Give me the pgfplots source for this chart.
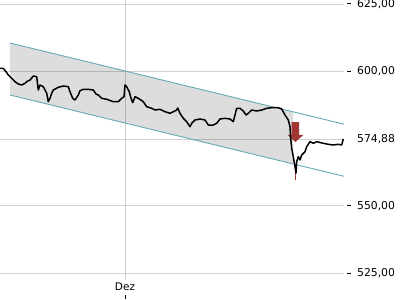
\documentclass[border=0pt]{standalone}
\usepackage{pgfplots}
\pgfplotsset{compat=1.18}
\usepackage{fontspec}
\setmainfont{DejaVu Sans}
\definecolor{chan}{RGB}{100,170,180}
\definecolor{arr}{RGB}{160,55,50}
\definecolor{gridc}{RGB}{208,208,208}
\newcommand{\dsh}{\llap{\rule[3.2pt]{4pt}{0.8pt}\hspace{6pt}}}
\begin{document}
\begin{tikzpicture}
\useasboundingbox (0pt,-20pt) rectangle (400pt,280pt);
\begin{axis}[
  at={(0pt,0pt)}, anchor=south west,
  scale only axis, width=344pt, height=280pt,
  xmin=0, xmax=344, ymin=522.47, ymax=626.49,
  axis line style={draw=none},
  tick style={draw=none},
  grid=major, grid style={gridc, line width=0.8pt},
  xtick={125}, xticklabels={{Dez\\[-3pt]\rule{0.7pt}{4pt}}},
  xticklabel style={align=center, font=\fontsize{10.5}{11}\selectfont, inner sep=1pt, yshift=-2pt},
  ytick={525,550,600,625},
  yticklabels={{\dsh 525{,}00},{\dsh 550{,}00},{\dsh 600{,}00},{\dsh 625{,}00}},
  extra y ticks={574.88}, extra y tick labels={574{,}88},
  extra y tick style={grid=major},
  yticklabel pos=right,
  yticklabel style={anchor=west, inner sep=0pt, xshift=13pt, font=\fontsize{10.8}{12}\selectfont},
  clip=false,
]
% channel fill
\addplot[draw=none, fill=black, fill opacity=0.135] coordinates {
 (10,610.51) (293,584.95) (293,565.64) (10,591.2)} --cycle;
\addplot[chan, line width=0.9pt] coordinates {(10,610.51) (344,580.35)};
\addplot[chan, line width=0.9pt] coordinates {(10,591.2) (344,560.99)};
% red arrow
\addplot[draw=none, fill=arr] coordinates {
 (291.5,581.16) (299,581.16) (299,576.34) (303.3,576.34) (295.5,573.74) (287.5,576.34) (291.5,576.34)} --cycle;
\addplot[arr, line width=1.2pt] coordinates {(295.8,564.56) (295.8,559.62)};
% price
\addplot[black, line width=1.5pt, line join=round] coordinates {
(0,601.11) (3.3,601.11) (6,599.85) (8.3,598.63) (11.7,597.40) (15,596.14) (18.3,595.28)
(21.7,594.91) (25,595.54) (26.7,596.14) (30,596.77) (33.3,598.25) (36.7,597.99)
(38.3,593.05) (40,594.91) (43.3,594.28) (46.7,591.83) (48.3,588.71) (50,589.97)
(51.7,591.83) (53.3,593.05) (58.3,594.06) (63.3,594.54) (68.3,594.28) (70,592.42)
(72.7,589.97) (75,589.34) (78.3,591.19) (80,592.79) (83.3,593.31) (88.3,593.31)
(93.3,593.05) (96,591.57) (98.3,591.19) (101.7,589.97) (106.7,589.60) (113.3,588.71)
(118.3,588.71) (121.7,589.97) (124,590.56) (125,594.91) (126.7,594.28) (129.3,592.42)
(131,589.97) (132.7,588.34) (135,590.56) (138.3,589.97) (143.3,588.71) (146.7,586.85)
(151.7,586.26) (155,585.62) (160,585.89) (165,584.99) (170,584.40) (173.3,584.99)
(176.7,585.62) (177.7,586.37) (180,584.40) (183.3,582.54) (186.7,581.28) (190,579.42)
(191.7,580.68) (195,581.91) (200,582.28) (205,581.91) (208.3,580.05) (213.3,580.05)
(216.7,580.68) (220,582.28) (225,582.54) (230,582.28) (233.3,581.28) (236.7,586.26)
(240,586.26) (243.3,585.25) (246,583.77) (248.3,584.40) (251.7,585.62) (256.7,585.25)
(261.7,585.62) (266.7,586.26) (271.7,586.48) (278.3,586.48) (281.7,585.99) (285,583.77)
(288.3,581.91) (290,579.42) (290.7,575.11) (291.7,571.40) (293.3,568.28) (295,564.56)
(296,562.22) (296.7,566.42) (298.3,568.28) (300,567.05) (301.7,568.91) (305,570.13)
(306.7,571.99) (310,573.85) (313.3,573.26) (316.7,573.85) (323.3,573.26) (328.3,572.88)
(333.3,572.62) (338.3,572.88) (341.7,572.62) (343.3,574.88)};
\end{axis}
\end{tikzpicture}
\end{document}
